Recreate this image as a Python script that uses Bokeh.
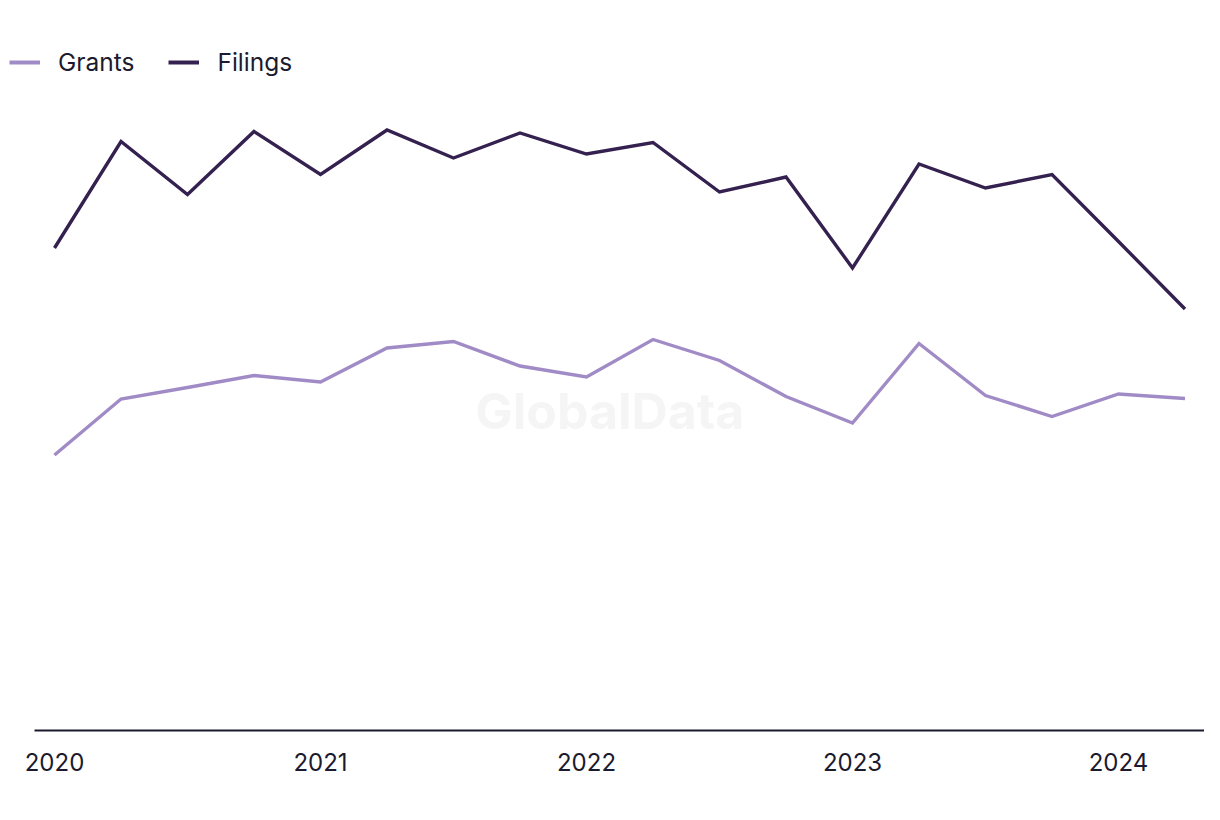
from bokeh.plotting import figure
from bokeh.models import Range1d, FixedTicker, Legend, LegendItem, Label, ColumnDataSource
from bokeh.embed import file_html
from bokeh.resources import INLINE

quarters = ["2020Q1", "2020Q2", "2020Q3", "2020Q4", "2021Q1", "2021Q2", "2021Q3", "2021Q4",
            "2022Q1", "2022Q2", "2022Q3", "2022Q4", "2023Q1", "2023Q2", "2023Q3", "2023Q4",
            "2024Q1", "2024Q2"]
filings = [96.5, 117.8, 107.2, 119.8, 111.2, 120.1, 114.5, 119.5, 115.3, 117.6, 107.7, 110.7,
           92.5, 113.3, 108.5, 111.2, 97.8, 84.3]
grants = [55.1, 66.3, 68.6, 71.0, 69.7, 76.5, 77.8, 72.9, 70.7, 78.2, 74.0, 66.8,
          61.5, 77.4, 67.0, 62.8, 67.3, 66.4]
year_labels = ["2020", "2021", "2022", "2023", "2024"]

FONT = "Inter"
TEXT = "#1b1a2e"
GRANTS_C = "#a18bc6"
FILINGS_C = "#34214f"

idx = list(range(len(quarters)))
src = ColumnDataSource(dict(x=idx, q=quarters, filings=filings, grants=grants))

# ---- legend strip (separate root so the legend can sit left of the plot frame)
lg = figure(width=1204, height=80, output_backend="svg", toolbar_location=None,
            x_axis_location=None, y_axis_location=None,
            x_range=Range1d(0, 1), y_range=Range1d(1000, 1001),
            min_border_left=0, min_border_right=0, min_border_top=0, min_border_bottom=0)
lg.outline_line_color = None
lg.grid.visible = False
lg_g = lg.line("x", "grants", source=src, line_color=GRANTS_C, line_width=4)
lg_f = lg.line("x", "filings", source=src, line_color=FILINGS_C, line_width=4)
legend = Legend(items=[LegendItem(label="Grants", renderers=[lg_g]),
                       LegendItem(label="Filings", renderers=[lg_f])],
                orientation="horizontal", location=(9, 3),
                glyph_width=31, glyph_height=20, label_standoff=18, spacing=34,
                padding=0, margin=0, border_line_color=None, background_fill_alpha=0,
                label_text_font=FONT, label_text_font_size="24.5px", label_text_color=TEXT)
lg.add_layout(legend, "center")

# ---- main chart
p = figure(width=1204, height=720, output_backend="svg", toolbar_location=None,
           x_range=Range1d(-0.3008, 17.2932), y_range=Range1d(0, 126),
           min_border_left=34, min_border_right=0, min_border_top=20, min_border_bottom=70)
p.background_fill_color = "white"
p.border_fill_color = "white"
p.outline_line_color = None
p.grid.visible = False
p.yaxis.visible = False

p.line("x", "grants", source=src, line_color=GRANTS_C, line_width=3.4, line_join="miter")
p.line("x", "filings", source=src, line_color=FILINGS_C, line_width=3.4, line_join="miter")

ax = p.xaxis[0]
ax.ticker = FixedTicker(ticks=[0, 4, 8, 12, 16])
ax.major_label_overrides = {i * 4: y for i, y in enumerate(year_labels)}
ax.major_tick_line_color = None
ax.minor_tick_line_color = None
ax.axis_line_color = TEXT
ax.axis_line_width = 2
ax.major_label_text_font = FONT
ax.major_label_text_font_size = "24px"
ax.major_label_text_color = TEXT
ax.major_label_standoff = 16

wm = Label(x=8.35, y=64, text="GlobalData", text_font=FONT, text_font_size="50px",
           text_font_style="bold", text_color="#f5f5f5", text_align="center",
           text_baseline="middle")
p.add_layout(wm)

open("out.html", "w").write(file_html([lg, p], INLINE))
